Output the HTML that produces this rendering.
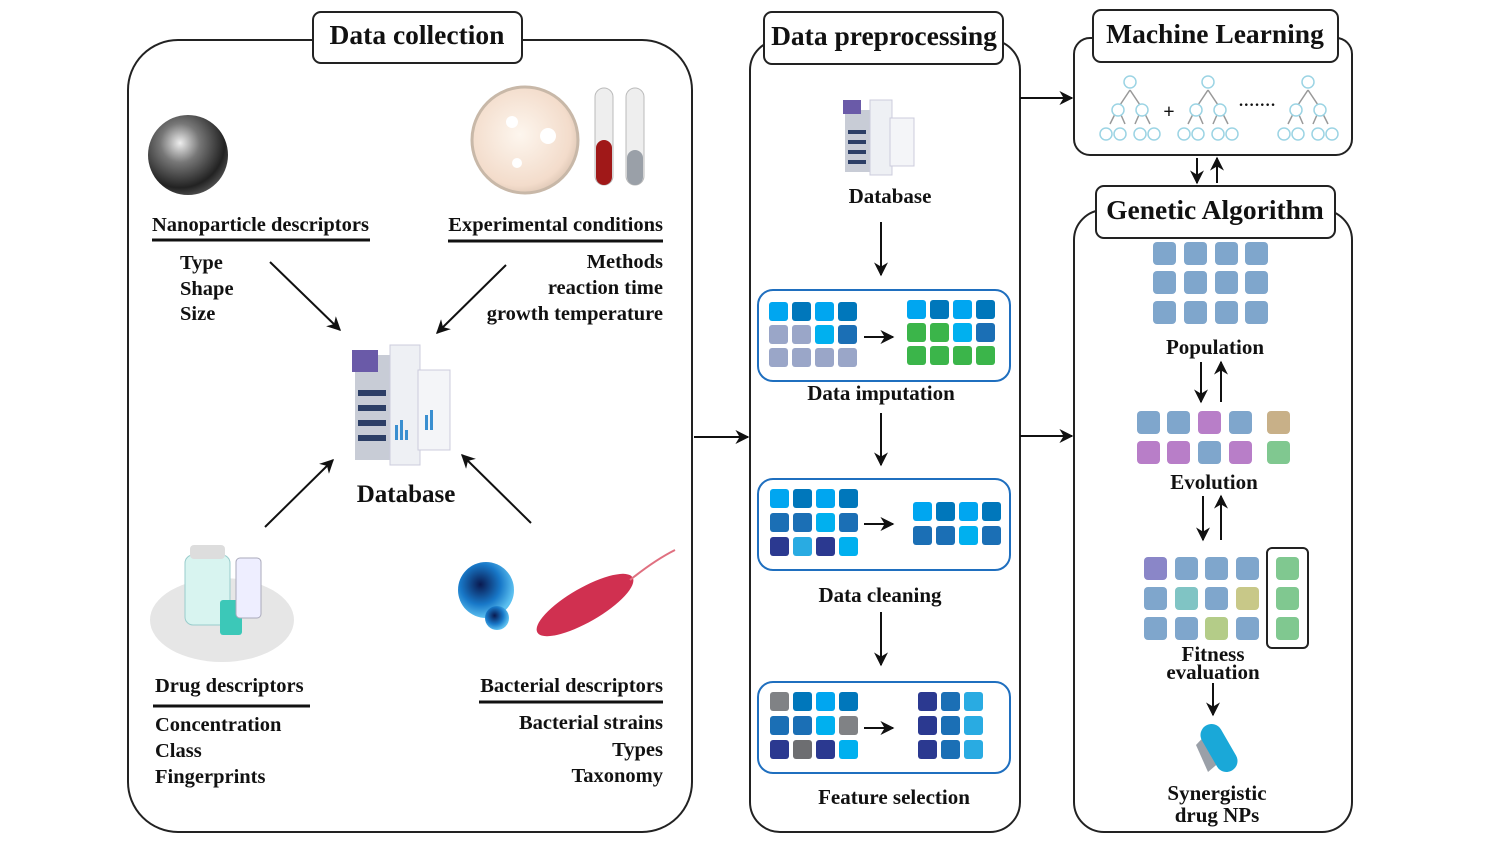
<!DOCTYPE html>
<html><head><meta charset="utf-8"><style>
body{margin:0;background:#fff}
svg text{font-family:"Liberation Serif",serif;font-weight:bold;fill:#111}
</style></head><body>
<svg width="1485" height="848" viewBox="0 0 1485 848" xmlns="http://www.w3.org/2000/svg">
<defs>
<marker id="ah" viewBox="0 0 10 10" refX="9" refY="5" markerWidth="7" markerHeight="7" orient="auto"><path d="M0,0 L10,5 L0,10 L3,5 z" fill="#111"/></marker>
<radialGradient id="sph" cx="0.4" cy="0.35" r="0.7"><stop offset="0" stop-color="#eee"/><stop offset="0.35" stop-color="#777"/><stop offset="0.8" stop-color="#222"/><stop offset="1" stop-color="#555"/></radialGradient>
<radialGradient id="petri" cx="0.45" cy="0.45" r="0.6"><stop offset="0" stop-color="#fdf6ee"/><stop offset="0.8" stop-color="#f3dccb"/><stop offset="1" stop-color="#d9c2b0"/></radialGradient>
<radialGradient id="blue" cx="0.4" cy="0.4" r="0.6"><stop offset="0" stop-color="#0a1a50"/><stop offset="0.6" stop-color="#1878c8"/><stop offset="1" stop-color="#5cc0f0"/></radialGradient>
</defs>
<g fill="none" stroke="#222" stroke-width="2">
<rect x="128" y="40" width="564" height="792" rx="50"/>
<rect x="750" y="40" width="270" height="792" rx="30"/>
<rect x="1074" y="38" width="278" height="117" rx="16"/>
<rect x="1074" y="210" width="278" height="622" rx="30"/>
</g>
<g fill="#fff" stroke="#222" stroke-width="2">
<rect x="313" y="12" width="209" height="51" rx="8"/>
<rect x="764" y="12" width="239" height="52" rx="8"/>
<rect x="1093" y="10" width="245" height="52" rx="8"/>
<rect x="1096" y="186" width="239" height="52" rx="8"/>
</g>
<text x="417" y="44" font-size="27.5" text-anchor="middle">Data collection</text>
<text x="884" y="45" font-size="27.5" text-anchor="middle">Data preprocessing</text>
<text x="1215" y="43" font-size="27.5" text-anchor="middle">Machine Learning</text>
<text x="1215" y="219" font-size="27.5" text-anchor="middle">Genetic Algorithm</text>

<g font-size="20.5">
<text x="152" y="231">Nanoparticle descriptors</text>
<text x="180" y="269">Type</text><text x="180" y="295">Shape</text><text x="180" y="320">Size</text>
<text x="663" y="231" text-anchor="end">Experimental conditions</text>
<text x="663" y="268" text-anchor="end">Methods</text><text x="663" y="294" text-anchor="end">reaction time</text><text x="663" y="320" text-anchor="end">growth temperature</text>
<text x="155" y="692">Drug descriptors</text>
<text x="155" y="731">Concentration</text><text x="155" y="757">Class</text><text x="155" y="783">Fingerprints</text>
<text x="663" y="692" text-anchor="end">Bacterial descriptors</text>
<text x="663" y="729" text-anchor="end">Bacterial strains</text><text x="663" y="756" text-anchor="end">Types</text><text x="663" y="782" text-anchor="end">Taxonomy</text>
</g>
<text x="406" y="502" font-size="25" text-anchor="middle">Database</text>
<g stroke="#111" stroke-width="3"><line x1="152" y1="240" x2="370" y2="240"/><line x1="448" y1="241" x2="663" y2="241"/><line x1="153" y1="706" x2="310" y2="706"/><line x1="479" y1="702" x2="663" y2="702"/></g>

<g stroke="#111" stroke-width="2" marker-end="url(#ah)" fill="none">
<line x1="270" y1="262" x2="340" y2="330"/><line x1="506" y1="265" x2="437" y2="333"/>
<line x1="265" y1="527" x2="333" y2="460"/><line x1="531" y1="523" x2="462" y2="455"/>
<line x1="694" y1="437" x2="748" y2="437"/><line x1="1020" y1="98" x2="1072" y2="98"/><line x1="1020" y1="436" x2="1072" y2="436"/>
<line x1="881" y1="222" x2="881" y2="275"/><line x1="881" y1="413" x2="881" y2="465"/><line x1="881" y1="612" x2="881" y2="665"/>
<line x1="1197" y1="158" x2="1197" y2="183"/><line x1="1217" y1="183" x2="1217" y2="158"/>
<line x1="1201" y1="362" x2="1201" y2="402"/><line x1="1221" y1="402" x2="1221" y2="362"/>
<line x1="1203" y1="496" x2="1203" y2="540"/><line x1="1221" y1="540" x2="1221" y2="496"/>
<line x1="1213" y1="683" x2="1213" y2="715"/>
<line x1="864" y1="337" x2="893" y2="337"/><line x1="864" y1="524" x2="893" y2="524"/><line x1="864" y1="728" x2="893" y2="728"/>
</g>

<circle cx="188" cy="155" r="40" fill="url(#sph)"/>
<circle cx="525" cy="140" r="53" fill="url(#petri)" stroke="#c8b8a8" stroke-width="3"/>
<circle cx="512" cy="122" r="6" fill="#fff"/><circle cx="548" cy="136" r="8" fill="#fff"/><circle cx="517" cy="163" r="5" fill="#fff"/>
<rect x="595" y="88" width="18" height="97" rx="9" fill="#eee" stroke="#bbb"/><rect x="596" y="140" width="16" height="45" rx="8" fill="#a01818"/>
<rect x="626" y="88" width="18" height="97" rx="9" fill="#eee" stroke="#bbb"/><rect x="627" y="150" width="16" height="35" rx="8" fill="#9aa0a8"/>
<g>
<rect x="355" y="355" width="35" height="105" fill="#c8ccd6"/><rect x="390" y="345" width="30" height="120" fill="#eef0f4" stroke="#ccd"/><rect x="418" y="370" width="32" height="80" fill="#f4f5f8" stroke="#ccd"/>
<rect x="352" y="350" width="26" height="22" fill="#6a5aa8"/>
<g fill="#2c3e66"><rect x="358" y="390" width="28" height="6"/><rect x="358" y="405" width="28" height="6"/><rect x="358" y="420" width="28" height="6"/><rect x="358" y="435" width="28" height="6"/></g>
<g fill="#3a8fd0"><rect x="395" y="425" width="3" height="15"/><rect x="400" y="420" width="3" height="20"/><rect x="405" y="430" width="3" height="10"/><rect x="425" y="415" width="3" height="15"/><rect x="430" y="410" width="3" height="20"/></g>
</g>
<g>
<rect x="845" y="110" width="25" height="62" fill="#c8ccd6"/><rect x="870" y="100" width="22" height="75" fill="#eef0f4" stroke="#ccd"/><rect x="890" y="118" width="24" height="48" fill="#f4f5f8" stroke="#ccd"/>
<rect x="843" y="100" width="18" height="14" fill="#6a5aa8"/>
<g fill="#2c3e66"><rect x="848" y="130" width="18" height="4"/><rect x="848" y="140" width="18" height="4"/><rect x="848" y="150" width="18" height="4"/><rect x="848" y="160" width="18" height="4"/></g>
</g>
<ellipse cx="222" cy="620" rx="72" ry="42" fill="#e6e6e6"/>
<rect x="185" y="555" width="45" height="70" rx="8" fill="#d8f4f0" stroke="#9cc"/><rect x="190" y="545" width="35" height="14" rx="4" fill="#ddd"/>
<rect x="220" y="600" width="22" height="35" rx="3" fill="#3cc8b8"/>
<rect x="236" y="558" width="25" height="60" rx="4" fill="#eef" stroke="#aab"/>
<circle cx="486" cy="590" r="28" fill="url(#blue)"/><circle cx="497" cy="618" r="12" fill="url(#blue)"/>
<ellipse cx="585" cy="605" rx="55" ry="17" fill="#d03050" transform="rotate(-30 585 605)"/>
<path d="M630 580 Q655 560 675 550" stroke="#e07080" stroke-width="2" fill="none"/>

<g stroke="#999" stroke-width="1.5" fill="none">
<path d="M1130 90 L1118 108 L1110 124 M1118 108 L1125 124 M1130 90 L1142 108 L1135 124 M1142 108 L1150 124"/>
<path d="M1208 90 L1196 108 L1188 124 M1196 108 L1203 124 M1208 90 L1220 108 L1213 124 M1220 108 L1228 124"/>
<path d="M1308 90 L1296 108 L1288 124 M1296 108 L1303 124 M1308 90 L1320 108 L1313 124 M1320 108 L1328 124"/>
</g>
<g fill="#fff" stroke="#9cd4e4" stroke-width="1.5">
<circle cx="1130" cy="82" r="6"/><circle cx="1118" cy="110" r="6"/><circle cx="1142" cy="110" r="6"/><circle cx="1106" cy="134" r="6"/><circle cx="1120" cy="134" r="6"/><circle cx="1140" cy="134" r="6"/><circle cx="1154" cy="134" r="6"/>
<circle cx="1208" cy="82" r="6"/><circle cx="1196" cy="110" r="6"/><circle cx="1220" cy="110" r="6"/><circle cx="1184" cy="134" r="6"/><circle cx="1198" cy="134" r="6"/><circle cx="1218" cy="134" r="6"/><circle cx="1232" cy="134" r="6"/>
<circle cx="1308" cy="82" r="6"/><circle cx="1296" cy="110" r="6"/><circle cx="1320" cy="110" r="6"/><circle cx="1284" cy="134" r="6"/><circle cx="1298" cy="134" r="6"/><circle cx="1318" cy="134" r="6"/><circle cx="1332" cy="134" r="6"/>
</g>
<text x="1169" y="118" font-size="20" text-anchor="middle">+</text>
<text x="1257" y="110" font-size="16" text-anchor="middle">·······</text>

<g fill="none" stroke="#1f6fbf" stroke-width="2">
<rect x="758" y="290" width="252" height="91" rx="15"/><rect x="758" y="479" width="252" height="91" rx="15"/><rect x="758" y="682" width="252" height="91" rx="15"/>
</g>
<g font-size="21" text-anchor="middle">
<text x="890" y="203">Database</text><text x="881" y="400">Data imputation</text><text x="880" y="602">Data cleaning</text><text x="894" y="804">Feature selection</text>
<text x="1215" y="354">Population</text><text x="1214" y="489">Evolution</text><text x="1213" y="661">Fitness</text><text x="1213" y="679">evaluation</text>
<text x="1217" y="800">Synergistic</text><text x="1217" y="822">drug NPs</text>
</g>
<g>
<rect x="769" y="302" width="19" height="19" rx="3" fill="#00a6f0"/><rect x="792" y="302" width="19" height="19" rx="3" fill="#0077bb"/><rect x="815" y="302" width="19" height="19" rx="3" fill="#00a6f0"/><rect x="838" y="302" width="19" height="19" rx="3" fill="#0077bb"/>
<rect x="769" y="325" width="19" height="19" rx="3" fill="#9aa6c8"/><rect x="792" y="325" width="19" height="19" rx="3" fill="#9aa6c8"/><rect x="815" y="325" width="19" height="19" rx="3" fill="#00b0ef"/><rect x="838" y="325" width="19" height="19" rx="3" fill="#1b6fb5"/>
<rect x="769" y="348" width="19" height="19" rx="3" fill="#9aa6c8"/><rect x="792" y="348" width="19" height="19" rx="3" fill="#9aa6c8"/><rect x="815" y="348" width="19" height="19" rx="3" fill="#9aa6c8"/><rect x="838" y="348" width="19" height="19" rx="3" fill="#9aa6c8"/>
<rect x="907" y="300" width="19" height="19" rx="3" fill="#00a6f0"/><rect x="930" y="300" width="19" height="19" rx="3" fill="#0077bb"/><rect x="953" y="300" width="19" height="19" rx="3" fill="#00a6f0"/><rect x="976" y="300" width="19" height="19" rx="3" fill="#0077bb"/>
<rect x="907" y="323" width="19" height="19" rx="3" fill="#3bb54a"/><rect x="930" y="323" width="19" height="19" rx="3" fill="#3bb54a"/><rect x="953" y="323" width="19" height="19" rx="3" fill="#00b0ef"/><rect x="976" y="323" width="19" height="19" rx="3" fill="#1b6fb5"/>
<rect x="907" y="346" width="19" height="19" rx="3" fill="#3bb54a"/><rect x="930" y="346" width="19" height="19" rx="3" fill="#3bb54a"/><rect x="953" y="346" width="19" height="19" rx="3" fill="#3bb54a"/><rect x="976" y="346" width="19" height="19" rx="3" fill="#3bb54a"/>
</g>
<g>
<rect x="770" y="489" width="19" height="19" rx="3" fill="#00a6f0"/><rect x="793" y="489" width="19" height="19" rx="3" fill="#0077bb"/><rect x="816" y="489" width="19" height="19" rx="3" fill="#00a6f0"/><rect x="839" y="489" width="19" height="19" rx="3" fill="#0077bb"/>
<rect x="770" y="513" width="19" height="19" rx="3" fill="#1b6fb5"/><rect x="793" y="513" width="19" height="19" rx="3" fill="#1b6fb5"/><rect x="816" y="513" width="19" height="19" rx="3" fill="#00b0ef"/><rect x="839" y="513" width="19" height="19" rx="3" fill="#1b6fb5"/>
<rect x="770" y="537" width="19" height="19" rx="3" fill="#2b3990"/><rect x="793" y="537" width="19" height="19" rx="3" fill="#29abe2"/><rect x="816" y="537" width="19" height="19" rx="3" fill="#2b3990"/><rect x="839" y="537" width="19" height="19" rx="3" fill="#00b0ef"/>
<rect x="913" y="502" width="19" height="19" rx="3" fill="#00a6f0"/><rect x="936" y="502" width="19" height="19" rx="3" fill="#0077bb"/><rect x="959" y="502" width="19" height="19" rx="3" fill="#00a6f0"/><rect x="982" y="502" width="19" height="19" rx="3" fill="#0077bb"/>
<rect x="913" y="526" width="19" height="19" rx="3" fill="#1b6fb5"/><rect x="936" y="526" width="19" height="19" rx="3" fill="#1b6fb5"/><rect x="959" y="526" width="19" height="19" rx="3" fill="#00b0ef"/><rect x="982" y="526" width="19" height="19" rx="3" fill="#1b6fb5"/>
</g>
<g>
<rect x="770" y="692" width="19" height="19" rx="3" fill="#808285"/><rect x="793" y="692" width="19" height="19" rx="3" fill="#0077bb"/><rect x="816" y="692" width="19" height="19" rx="3" fill="#00a6f0"/><rect x="839" y="692" width="19" height="19" rx="3" fill="#0077bb"/>
<rect x="770" y="716" width="19" height="19" rx="3" fill="#1b6fb5"/><rect x="793" y="716" width="19" height="19" rx="3" fill="#1b6fb5"/><rect x="816" y="716" width="19" height="19" rx="3" fill="#00b0ef"/><rect x="839" y="716" width="19" height="19" rx="3" fill="#808285"/>
<rect x="770" y="740" width="19" height="19" rx="3" fill="#2b3990"/><rect x="793" y="740" width="19" height="19" rx="3" fill="#6d6e71"/><rect x="816" y="740" width="19" height="19" rx="3" fill="#2b3990"/><rect x="839" y="740" width="19" height="19" rx="3" fill="#00b0ef"/>
<rect x="918" y="692" width="19" height="19" rx="3" fill="#2b3990"/><rect x="941" y="692" width="19" height="19" rx="3" fill="#1b6fb5"/><rect x="964" y="692" width="19" height="19" rx="3" fill="#29abe2"/>
<rect x="918" y="716" width="19" height="19" rx="3" fill="#2b3990"/><rect x="941" y="716" width="19" height="19" rx="3" fill="#1b6fb5"/><rect x="964" y="716" width="19" height="19" rx="3" fill="#29abe2"/>
<rect x="918" y="740" width="19" height="19" rx="3" fill="#2b3990"/><rect x="941" y="740" width="19" height="19" rx="3" fill="#1b6fb5"/><rect x="964" y="740" width="19" height="19" rx="3" fill="#29abe2"/>
</g>
<g fill="#7fa6cc">
<rect x="1153" y="242" width="23" height="23" rx="4"/><rect x="1184" y="242" width="23" height="23" rx="4"/><rect x="1215" y="242" width="23" height="23" rx="4"/><rect x="1245" y="242" width="23" height="23" rx="4"/>
<rect x="1153" y="271" width="23" height="23" rx="4"/><rect x="1184" y="271" width="23" height="23" rx="4"/><rect x="1215" y="271" width="23" height="23" rx="4"/><rect x="1245" y="271" width="23" height="23" rx="4"/>
<rect x="1153" y="301" width="23" height="23" rx="4"/><rect x="1184" y="301" width="23" height="23" rx="4"/><rect x="1215" y="301" width="23" height="23" rx="4"/><rect x="1245" y="301" width="23" height="23" rx="4"/>
</g>
<g>
<rect x="1137" y="411" width="23" height="23" rx="4" fill="#7fa6cc"/><rect x="1167" y="411" width="23" height="23" rx="4" fill="#7fa6cc"/><rect x="1198" y="411" width="23" height="23" rx="4" fill="#b87ec8"/><rect x="1229" y="411" width="23" height="23" rx="4" fill="#7fa6cc"/><rect x="1267" y="411" width="23" height="23" rx="4" fill="#c8b088"/>
<rect x="1137" y="441" width="23" height="23" rx="4" fill="#b87ec8"/><rect x="1167" y="441" width="23" height="23" rx="4" fill="#b87ec8"/><rect x="1198" y="441" width="23" height="23" rx="4" fill="#7fa6cc"/><rect x="1229" y="441" width="23" height="23" rx="4" fill="#b87ec8"/><rect x="1267" y="441" width="23" height="23" rx="4" fill="#80c890"/>
</g>
<g>
<rect x="1144" y="557" width="23" height="23" rx="4" fill="#8a86c8"/><rect x="1175" y="557" width="23" height="23" rx="4" fill="#7fa6cc"/><rect x="1205" y="557" width="23" height="23" rx="4" fill="#7fa6cc"/><rect x="1236" y="557" width="23" height="23" rx="4" fill="#7fa6cc"/>
<rect x="1144" y="587" width="23" height="23" rx="4" fill="#7fa6cc"/><rect x="1175" y="587" width="23" height="23" rx="4" fill="#80c4c4"/><rect x="1205" y="587" width="23" height="23" rx="4" fill="#7fa6cc"/><rect x="1236" y="587" width="23" height="23" rx="4" fill="#c8c888"/>
<rect x="1144" y="617" width="23" height="23" rx="4" fill="#7fa6cc"/><rect x="1175" y="617" width="23" height="23" rx="4" fill="#7fa6cc"/><rect x="1205" y="617" width="23" height="23" rx="4" fill="#b4cc88"/><rect x="1236" y="617" width="23" height="23" rx="4" fill="#7fa6cc"/>
<rect x="1276" y="557" width="23" height="23" rx="4" fill="#80c890"/><rect x="1276" y="587" width="23" height="23" rx="4" fill="#80c890"/><rect x="1276" y="617" width="23" height="23" rx="4" fill="#80c890"/>
<rect x="1267" y="548" width="41" height="100" rx="5" fill="none" stroke="#222" stroke-width="2"/>
</g>
<polygon points="1196,745 1212,728 1228,755 1208,772" fill="#9aa0a8"/>
<rect x="1208" y="722" width="22" height="52" rx="11" fill="#1aa8d8" transform="rotate(-30 1219 748)"/>
</svg>
</body></html>
